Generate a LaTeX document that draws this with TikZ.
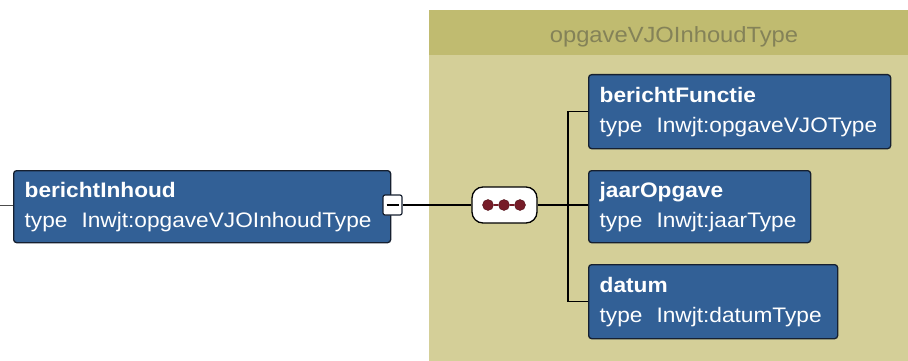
\documentclass[tikz,border=0pt]{standalone}
\usepackage{fontspec}
\setmainfont[FakeStretch=1.08]{Liberation Sans}
\definecolor{boxblue}{RGB}{50,96,150}
\definecolor{boxedge}{RGB}{22,32,48}
\definecolor{olivebody}{RGB}{212,207,152}
\definecolor{olivehead}{RGB}{192,187,112}
\definecolor{olivetext}{RGB}{132,130,88}
\definecolor{beadred}{RGB}{118,28,40}
\tikzset{
  elem/.style={draw=boxedge, fill=boxblue, rounded corners=3pt, line width=1.3pt,
    anchor=north west, text=white, align=left, inner xsep=11pt, inner ysep=0pt,
    font=\fontsize{21}{30}\selectfont},
  wire/.style={line width=1.3pt, black},
  toggle/.style={draw=boxedge, fill=white, rounded corners=2pt, line width=1.2pt,
    minimum width=19pt, minimum height=20pt, inner sep=0pt},
  seqbox/.style={draw=black, fill=white, rounded corners=11pt, line width=1.3pt,
    minimum width=65pt, minimum height=36pt, inner sep=0pt},
  bead/.style={circle, fill=beadred, draw=beadred!70!black, minimum size=11pt, inner sep=0pt}
}
\begin{document}
\begin{tikzpicture}[x=1pt,y=-1pt]
\useasboundingbox (0,0) rectangle (908,361);
% complex type container
\fill[olivebody] (429,10) rectangle (908,361);
\fill[olivehead] (429,10) rectangle (908,55);
\node[text=olivetext, font=\fontsize{22}{22}\selectfont] (ctype) at (674,37) {opgaveVJOInhoudType};

% parent element
\node[elem, text width=355pt, minimum height=72pt] (inh) at (13,170)
  {\textbf{berichtInhoud}\\type\ \ Inwjt:opgaveVJOInhoudType};
\coordinate (lin) at (0,205);
\draw[line width=1pt, black!70] (lin) -- (lin -| inh.west);

% collapse toggle
\node[toggle] (tog) at (392.5,205) {};
\draw[line width=1.4pt] ([xshift=-6pt]tog.center) -- ([xshift=6pt]tog.center);

% sequence compositor
\node[seqbox] (seq) at (504.5,205) {};
\draw[wire] (tog.east) -- (seq.west);
\node[bead] (b1) at (488,205) {};
\node[bead] (b2) at (504,205) {};
\node[bead] (b3) at (520,205) {};
\draw[beadred, line width=1.5pt] (b1) -- (b2) -- (b3);

% child elements
\node[elem, text width=280pt, minimum height=74pt] (fun) at (588,74)
  {\textbf{berichtFunctie}\\type\ \ Inwjt:opgaveVJOType};
\node[elem, text width=200pt, minimum height=72pt] (jaar) at (588,170)
  {\textbf{jaarOpgave}\\type\ \ Inwjt:jaarType};
\node[elem, text width=227pt, minimum height=74pt] (dat) at (588,264)
  {\textbf{datum}\\type\ \ Inwjt:datumType};

% connectors
\draw[wire] (seq.east) -- (seq.east -| jaar.west);
\draw[wire] (fun.west) -- ++(-20,0) |- (dat.west);
\end{tikzpicture}
\end{document}
